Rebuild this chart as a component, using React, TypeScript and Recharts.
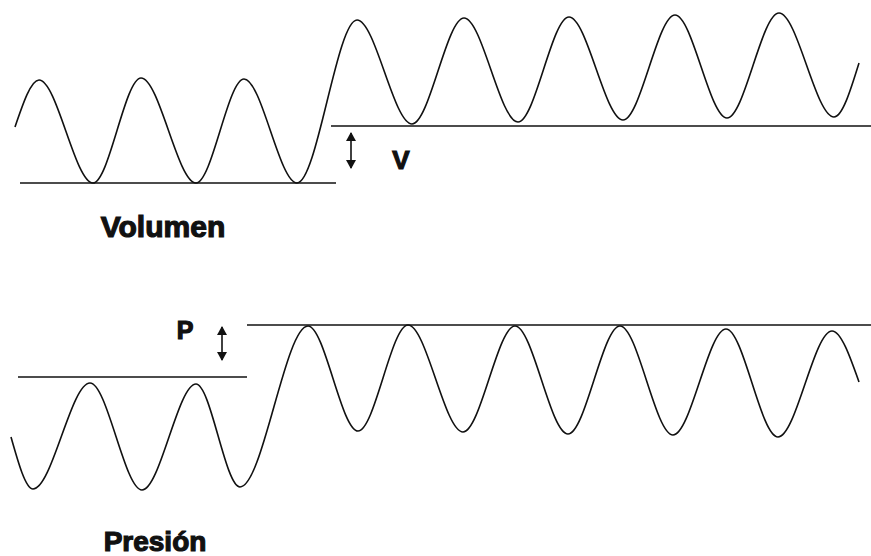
import React from 'react';
import { ComposedChart, Line, XAxis, YAxis, ReferenceDot } from 'recharts';

// t: tiempo (unidades arbitrarias), v / p: nivel
const volumen = [
  { t: 15, v: 5.6 }, { t: 39, v: 10.3 }, { t: 93, v: 0 }, { t: 141, v: 10.5 },
  { t: 196, v: 0 }, { t: 244, v: 10.4 }, { t: 297, v: 0 }, { t: 357, v: 16.3 },
  { t: 412, v: 5.9 }, { t: 464, v: 16.5 }, { t: 518, v: 6.1 }, { t: 569, v: 16.6 },
  { t: 623, v: 6.3 }, { t: 675, v: 16.8 }, { t: 727, v: 6.5 }, { t: 779, v: 17.0 },
  { t: 834, v: 6.6 }, { t: 859, v: 12.0 },
];

const presion = [
  { t: 11, p: 5.3 }, { t: 33, p: 0.1 }, { t: 90, p: 10.7 }, { t: 142, p: 0 },
  { t: 196, p: 10.6 }, { t: 240, p: 0.3 }, { t: 308, p: 16.4 }, { t: 358, p: 5.9 },
  { t: 408, p: 16.5 }, { t: 463, p: 5.8 }, { t: 515, p: 16.4 }, { t: 568, p: 5.6 },
  { t: 620, p: 16.4 }, { t: 673, p: 5.5 }, { t: 726, p: 16.1 }, { t: 778, p: 5.3 },
  { t: 832, p: 15.9 }, { t: 859, p: 10.8 },
];

// líneas de referencia (niveles base)
const volBaseBajo = [{ t: 20, v: 0 }, { t: 336, v: 0 }];
const volBaseAlto = [{ t: 331, v: 5.7 }, { t: 871, v: 5.7 }];
const presBaseBajo = [{ t: 18, p: 11.3 }, { t: 247, p: 11.3 }];
const presBaseAlto = [{ t: 247, p: 16.5 }, { t: 871, p: 16.5 }];

// flechas de incremento
const flechaV = [{ t: 351, v: 5.0 }, { t: 351, v: 1.5 }];
const flechaP = [{ t: 222, p: 16.3 }, { t: 222, p: 13.0 }];

const TXT_V = 'V';
const TXT_P = 'P';
const TXT_VOL = 'Volumen';
const TXT_PRES = 'Presión';

const INK = '#111';
const FONT = "'Liberation Sans', Arial, sans-serif";

const ArrowHead = (props: any) => {
  const { cx, cy, index } = props;
  const d = index === 0
    ? `M${cx},${cy - 1} L${cx - 5},${cy + 8} L${cx + 5},${cy + 8} Z`
    : `M${cx},${cy + 1} L${cx - 5},${cy - 8} L${cx + 5},${cy - 8} Z`;
  return <path key={`a-${index}`} d={d} fill={INK} />;
};

const lbl = (value: string, size: number) => ({
  value,
  position: 'center' as const,
  fill: INK,
  stroke: INK,
  strokeWidth: 1.2,
  fontSize: size,
  fontWeight: 700,
  fontFamily: FONT,
});

document.body.style.margin = '0';

export default function App() {
  return (
    <div style={{ width: 871, height: 556, background: '#fff' }}>
      <ComposedChart width={871} height={556} margin={{ top: 0, right: 0, bottom: 0, left: 0 }}>
        <XAxis dataKey="t" type="number" domain={[0, 871]} hide allowDataOverflow />
        <YAxis yAxisId="vol" type="number" domain={[-37.3, 18.3]} hide allowDataOverflow />
        <YAxis yAxisId="pres" type="number" domain={[-6.6, 49]} hide allowDataOverflow />

        {/* Volumen */}
        <Line yAxisId="vol" data={volBaseBajo} dataKey="v" stroke={INK} strokeWidth={1.6} dot={false} activeDot={false} isAnimationActive={false} />
        <Line yAxisId="vol" data={volBaseAlto} dataKey="v" stroke={INK} strokeWidth={1.6} dot={false} activeDot={false} isAnimationActive={false} />
        <Line yAxisId="vol" data={volumen} dataKey="v" type="monotone" stroke={INK} strokeWidth={1.6} dot={false} activeDot={false} isAnimationActive={false} />
        <Line yAxisId="vol" data={flechaV} dataKey="v" stroke={INK} strokeWidth={1.6} dot={<ArrowHead />} activeDot={false} isAnimationActive={false} />

        {/* Presión */}
        <Line yAxisId="pres" data={presBaseBajo} dataKey="p" stroke={INK} strokeWidth={1.6} dot={false} activeDot={false} isAnimationActive={false} />
        <Line yAxisId="pres" data={presBaseAlto} dataKey="p" stroke={INK} strokeWidth={1.6} dot={false} activeDot={false} isAnimationActive={false} />
        <Line yAxisId="pres" data={presion} dataKey="p" type="monotone" stroke={INK} strokeWidth={1.6} dot={false} activeDot={false} isAnimationActive={false} />
        <Line yAxisId="pres" data={flechaP} dataKey="p" stroke={INK} strokeWidth={1.6} dot={<ArrowHead />} activeDot={false} isAnimationActive={false} />

        <ReferenceDot yAxisId="vol" x={401} y={2.3} r={0} stroke="none" label={lbl(TXT_V, 26)} />
        <ReferenceDot yAxisId="vol" x={163} y={-4.3} r={0} stroke="none" label={lbl(TXT_VOL, 30)} />
        <ReferenceDot yAxisId="pres" x={185} y={16.0} r={0} stroke="none" label={lbl(TXT_P, 25)} />
        <ReferenceDot yAxisId="pres" x={155} y={-5.1} r={0} stroke="none" label={lbl(TXT_PRES, 28)} />
      </ComposedChart>
    </div>
  );
}
